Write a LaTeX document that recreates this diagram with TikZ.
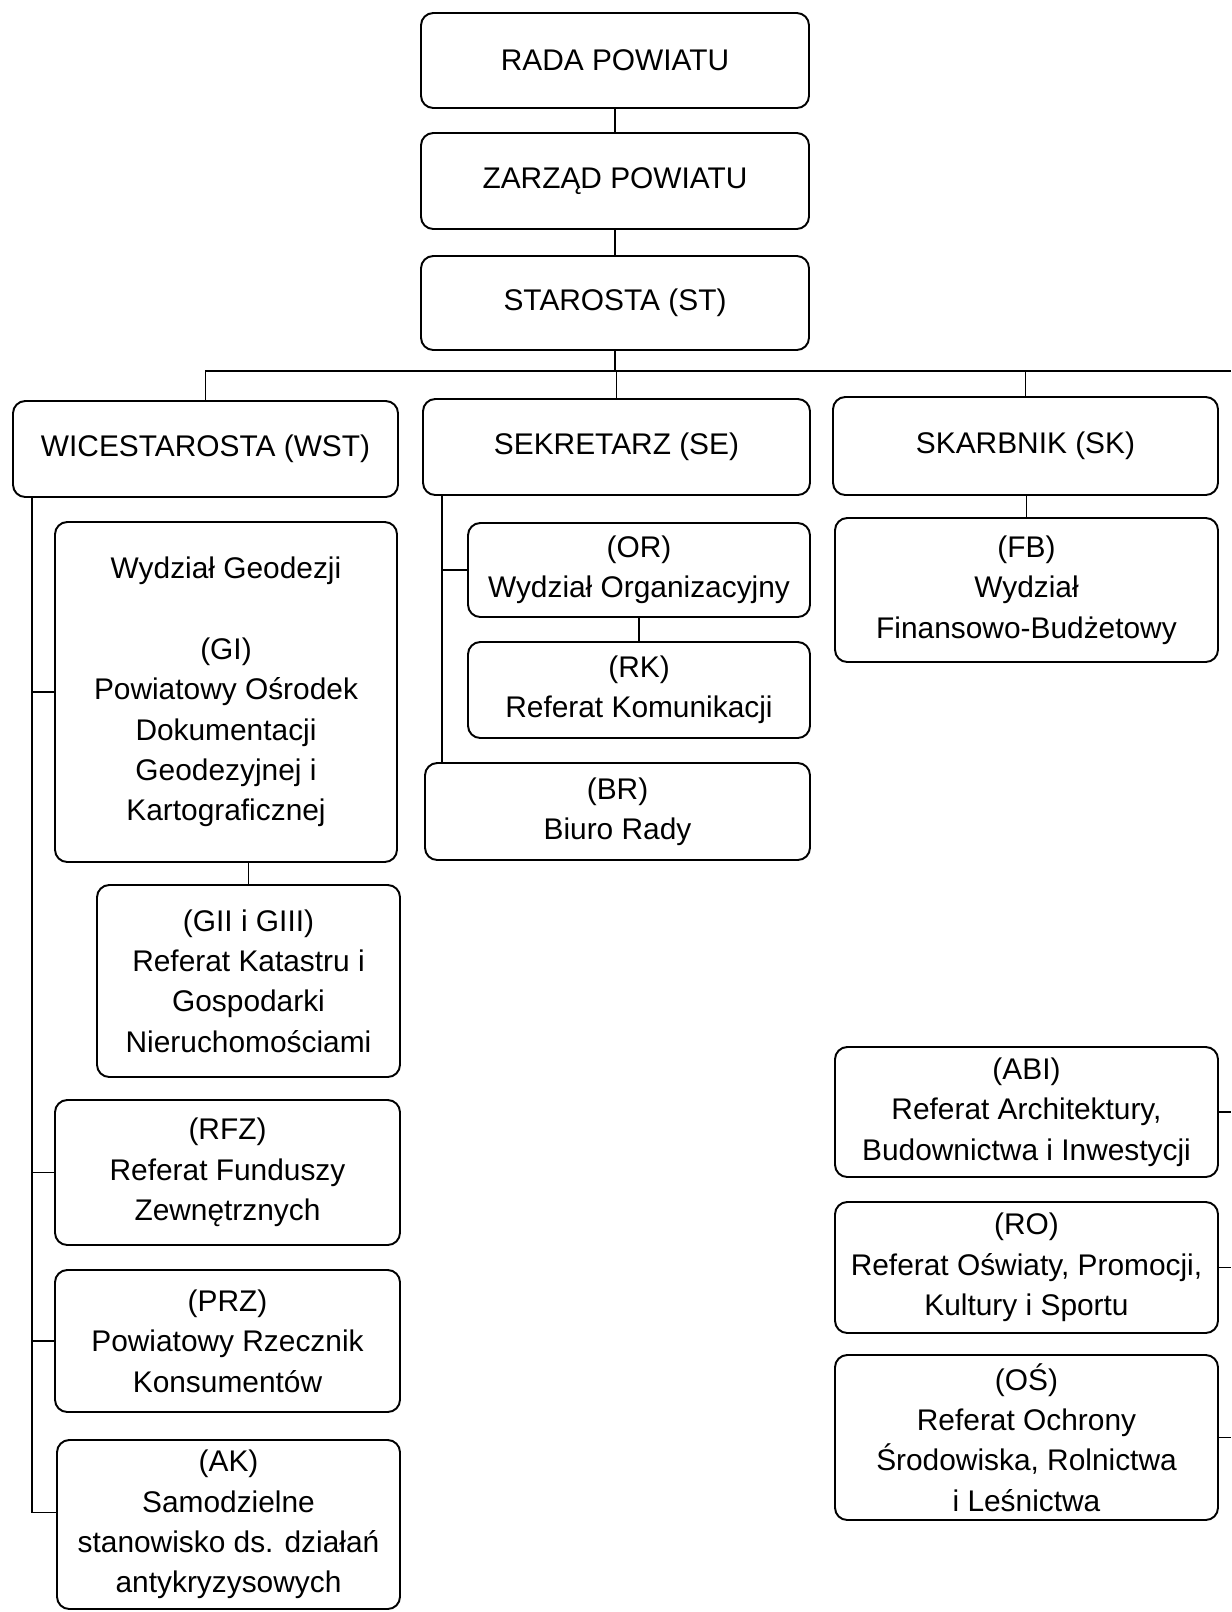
\documentclass[tikz,border=0pt]{standalone}
\usepackage{fontspec}
\setmainfont{Liberation Sans}
\usepackage{tikz}
\usetikzlibrary{
  positioning,
  calc
}
\tikzset{
  orgbox/.style={
    draw=black,
    line width=1.1pt,
    rounded corners=7pt,
    inner sep=2pt,
    align=center,
    font=\fontsize{17}{23}\selectfont,
  },
  conn/.style={
    draw=black,
    line width=1.1pt,
  },
}

\begin{document}
\begin{tikzpicture}[
  x=1cm, y=1cm,
]
  \useasboundingbox (0,0) rectangle (24.62,-32.24);

  % Row 1 — council, board, starost
  \node[orgbox, minimum width=7.76cm, minimum height=1.9cm]  (rada)   at (12.3,-1.21) {RADA POWIATU};
  \node[orgbox, minimum width=7.76cm, minimum height=1.92cm] (zarzad) at (12.3,-3.62) {ZARZĄD POWIATU};
  \node[orgbox, minimum width=7.76cm, minimum height=1.88cm] (st)     at (12.3,-6.06) {STAROSTA (ST)};

  \draw[conn] (rada) -- (zarzad);
  \draw[conn] (zarzad) -- (st);

  % Row 2 — deputies
  \node[orgbox, minimum width=7.7cm,  minimum height=1.92cm] (wst) at (4.11,-8.98)  {WICESTAROSTA (WST)};
  \node[orgbox, minimum width=7.74cm, minimum height=1.92cm] (se)  at (12.33,-8.94) {SEKRETARZ (SE)};
  \node[orgbox, minimum width=7.7cm,  minimum height=1.96cm] (sk)  at (20.51,-8.92) {SKARBNIK (SK)};

  \coordinate (redge) at (24.62,-7.42);
  \draw[conn] (wst.north) |- (redge);
  \draw[conn] (st.south) -- (st.south |- redge);
  \draw[conn] (se.north) -- (se.north |- redge);
  \draw[conn] (sk.north) -- (sk.north |- redge);

  % Left column — under WST
  \node[orgbox, minimum width=6.84cm, minimum height=6.8cm] (gi) at (4.52,-13.84)
    {Wydział Geodezji\\[23pt](GI)\\Powiatowy Ośrodek\\Dokumentacji\\Geodezyjnej i\\Kartograficznej};
  \node[orgbox, minimum width=6.06cm, minimum height=3.84cm] (gii) at (4.97,-19.62)
    {(GII i GIII)\\Referat Katastru i\\Gospodarki\\Nieruchomościami};
  \node[orgbox, minimum width=6.9cm, minimum height=2.9cm] (rfz) at (4.55,-23.45)
    {(RFZ)\\Referat Funduszy\\Zewnętrznych};
  \node[orgbox, minimum width=6.9cm, minimum height=2.84cm] (prz) at (4.55,-26.82)
    {(PRZ)\\Powiatowy Rzecznik\\Konsumentów};
  \node[orgbox, minimum width=6.86cm, minimum height=3.38cm] (ak) at (4.57,-30.49)
    {(AK)\\Samodzielne\\stanowisko ds. działań\\antykryzysowych};

  \coordinate (wbus) at ([xshift=0.4cm]wst.south west);
  \draw[conn] (wbus) |- ([yshift=0.24cm]ak.west);
  \foreach \n in {gi,rfz,prz}
    \draw[conn] (wbus |- \n.west) -- (\n.west);
  \draw[conn] (gii.north |- gi.south) -- (gii.north);

  % Middle column — under SE
  \node[orgbox, minimum width=6.84cm, minimum height=1.88cm] (or) at (12.78,-11.4)
    {(OR)\\Wydział Organizacyjny};
  \node[orgbox, minimum width=6.84cm, minimum height=1.92cm] (rk) at (12.78,-13.8)
    {(RK)\\Referat Komunikacji};
  \node[orgbox, minimum width=7.7cm, minimum height=1.94cm] (br) at (12.35,-16.23)
    {(BR)\\Biuro Rady};

  \coordinate (sbus) at ([xshift=0.4cm]se.south west);
  \draw[conn] (sbus) -- (sbus |- br.north);
  \draw[conn] (sbus |- or.west) -- (or.west);
  \draw[conn] (or) -- (rk);

  % Right column — under SK
  \node[orgbox, minimum width=7.66cm, minimum height=2.88cm] (fb) at (20.53,-11.8)
    {(FB)\\Wydział\\Finansowo-Budżetowy};
  \node[orgbox, minimum width=7.66cm, minimum height=2.6cm] (abi) at (20.53,-22.24)
    {(ABI)\\Referat Architektury,\\Budownictwa i Inwestycji};
  \node[orgbox, minimum width=7.66cm, minimum height=2.62cm] (ro) at (20.53,-25.35)
    {(RO)\\Referat Oświaty, Promocji,\\Kultury i Sportu};
  \node[orgbox, minimum width=7.66cm, minimum height=3.3cm] (os) at (20.53,-28.75)
    {(OŚ)\\Referat Ochrony\\Środowiska, Rolnictwa\\i Leśnictwa};

  \draw[conn] (sk.south -| fb.north) -- (fb.north);
  \foreach \n in {abi,ro,os}
    \draw[conn] (\n.east) -- (\n.east -| redge);
\end{tikzpicture}
\end{document}
